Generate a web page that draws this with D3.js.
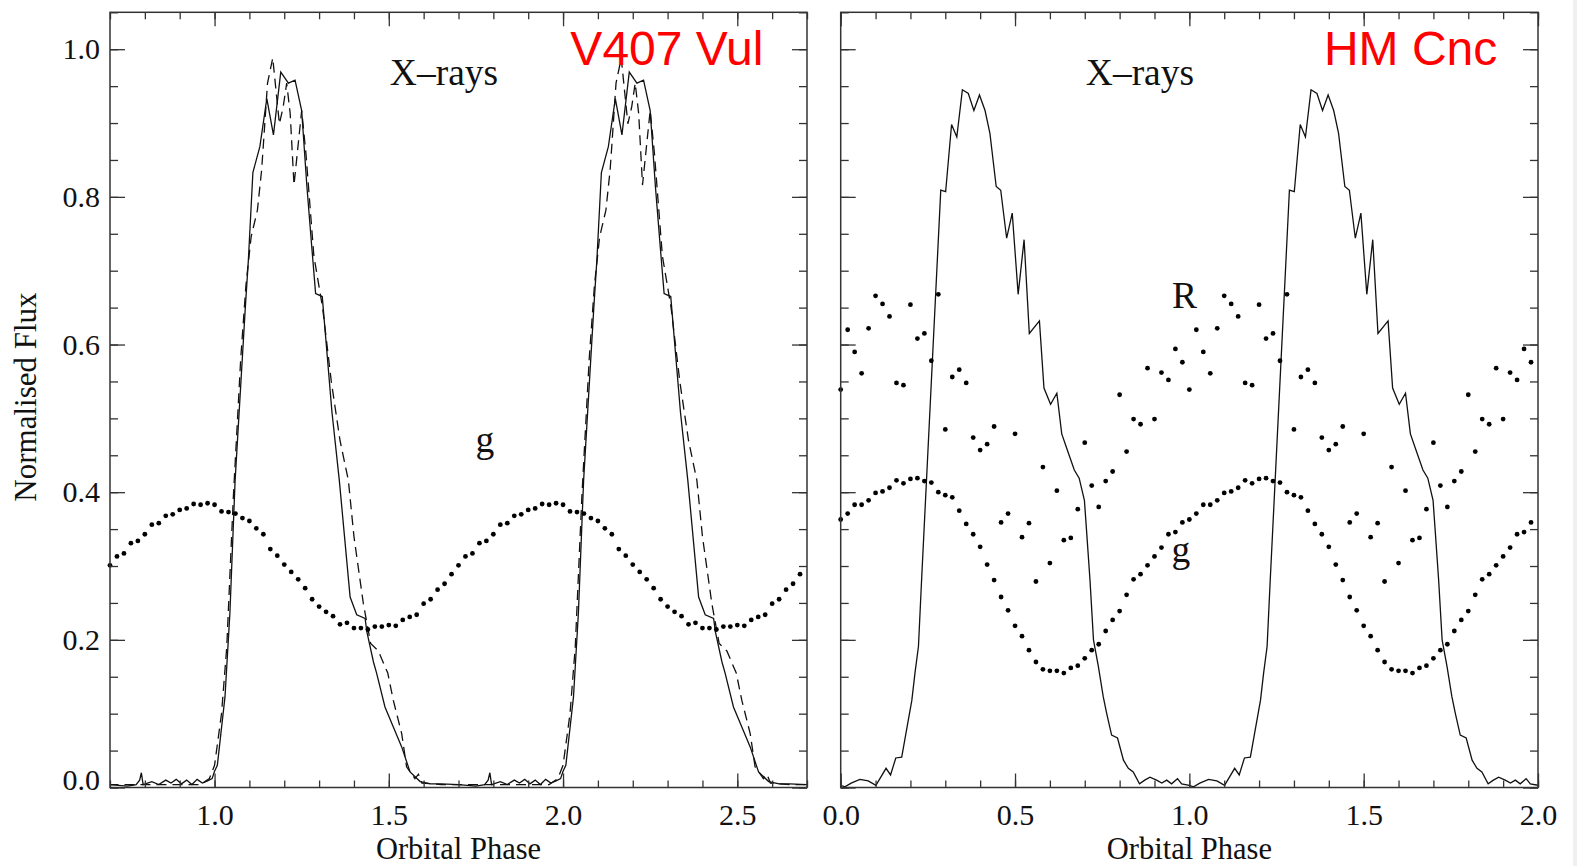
<!DOCTYPE html>
<html>
<head>
<meta charset="utf-8">
<script src="https://cdn.jsdelivr.net/npm/d3@7"></script>
<style>
  body { margin: 0; background: #fff; }
  svg { display: block; }
</style>
</head>
<body>
<script>
// one folded cycle of each light curve (phase 0..1), plotted twice / three times like the original

// V407 Vul, X-rays (solid)
const vulXrayPhase = [0.000, 0.008, 0.030, 0.044, 0.059, 0.088, 0.097, 0.110, 0.130, 0.150, 0.169, 0.190, 0.212, 0.231, 0.250, 0.265, 0.279, 0.290, 0.309, 0.337, 0.358, 0.389, 0.408, 0.432, 0.437, 0.456, 0.465, 0.489, 0.513, 0.537, 0.561, 0.590, 0.620, 0.650, 0.700, 0.750, 0.775, 0.785, 0.790, 0.795, 0.820, 0.840, 0.860, 0.875, 0.890, 0.905, 0.920, 0.935, 0.950, 0.965, 0.980, 0.993]
const vulXrayFlux = [0.022, 0.030, 0.123, 0.236, 0.416, 0.648, 0.714, 0.833, 0.868, 0.933, 0.884, 0.969, 0.954, 0.958, 0.917, 0.814, 0.732, 0.669, 0.665, 0.508, 0.416, 0.258, 0.234, 0.229, 0.211, 0.170, 0.155, 0.109, 0.082, 0.055, 0.021, 0.008, 0.005, 0.005, 0.004, 0.002, 0.004, 0.010, 0.020, 0.004, 0.008, 0.004, 0.010, 0.006, 0.011, 0.005, 0.010, 0.004, 0.011, 0.006, 0.009, 0.012]

// V407 Vul, X-rays (dashed)
const vulDashPhase = [0.000, 0.020, 0.035, 0.054, 0.075, 0.090, 0.105, 0.123, 0.135, 0.140, 0.152, 0.167, 0.186, 0.197, 0.207, 0.217, 0.228, 0.250, 0.262, 0.285, 0.310, 0.335, 0.360, 0.384, 0.400, 0.427, 0.448, 0.470, 0.497, 0.513, 0.537, 0.551, 0.575, 0.585, 0.595, 0.650, 0.800, 0.960, 0.985]
const vulDashFlux = [0.030, 0.100, 0.190, 0.394, 0.580, 0.680, 0.746, 0.782, 0.836, 0.870, 0.954, 0.988, 0.899, 0.922, 0.954, 0.913, 0.816, 0.917, 0.860, 0.720, 0.650, 0.550, 0.470, 0.416, 0.340, 0.249, 0.195, 0.185, 0.155, 0.118, 0.073, 0.028, 0.012, 0.018, 0.006, 0.004, 0.004, 0.004, 0.012]

// g band dots share one phase grid
const dotPhase = [0.00, 0.02, 0.04, 0.06, 0.08, 0.10, 0.12, 0.14, 0.16, 0.18, 0.20, 0.22, 0.24, 0.26, 0.28, 0.30, 0.32, 0.34, 0.36, 0.38, 0.40, 0.42, 0.44, 0.46, 0.48, 0.50, 0.52, 0.54, 0.56, 0.58, 0.60, 0.62, 0.64, 0.66, 0.68, 0.70, 0.72, 0.74, 0.76, 0.78, 0.80, 0.82, 0.84, 0.86, 0.88, 0.90, 0.92, 0.94, 0.96, 0.98]
const vulG = [0.383, 0.374, 0.373, 0.371, 0.365, 0.361, 0.351, 0.343, 0.323, 0.314, 0.302, 0.292, 0.282, 0.270, 0.255, 0.245, 0.238, 0.232, 0.221, 0.223, 0.216, 0.216, 0.214, 0.218, 0.218, 0.220, 0.219, 0.227, 0.231, 0.234, 0.249, 0.255, 0.268, 0.276, 0.289, 0.301, 0.313, 0.317, 0.331, 0.334, 0.343, 0.356, 0.358, 0.368, 0.370, 0.376, 0.378, 0.384, 0.383, 0.385]

// HM Cnc
const hmXrayPhase = [0.000, 0.012, 0.030, 0.055, 0.079, 0.101, 0.130, 0.143, 0.158, 0.175, 0.187, 0.204, 0.213, 0.223, 0.232, 0.287, 0.301, 0.318, 0.333, 0.349, 0.366, 0.382, 0.398, 0.414, 0.428, 0.446, 0.459, 0.476, 0.492, 0.509, 0.526, 0.541, 0.570, 0.583, 0.602, 0.620, 0.634, 0.653, 0.670, 0.684, 0.699, 0.705, 0.715, 0.725, 0.739, 0.753, 0.763, 0.777, 0.794, 0.811, 0.825, 0.839, 0.857, 0.872, 0.887, 0.906, 0.921, 0.935, 0.949, 0.966, 0.978]
const hmXrayFlux = [0.003, 0.001, 0.006, 0.011, 0.009, 0.003, 0.026, 0.017, 0.040, 0.041, 0.073, 0.118, 0.155, 0.191, 0.281, 0.809, 0.807, 0.898, 0.881, 0.945, 0.940, 0.917, 0.938, 0.917, 0.886, 0.814, 0.809, 0.744, 0.778, 0.668, 0.742, 0.615, 0.632, 0.541, 0.519, 0.534, 0.479, 0.453, 0.430, 0.419, 0.389, 0.349, 0.281, 0.200, 0.164, 0.123, 0.100, 0.071, 0.067, 0.037, 0.026, 0.021, 0.005, 0.010, 0.014, 0.010, 0.006, 0.010, 0.005, 0.012, 0.005]
const hmG = [0.363, 0.371, 0.383, 0.383, 0.389, 0.399, 0.401, 0.406, 0.416, 0.412, 0.418, 0.419, 0.415, 0.413, 0.400, 0.396, 0.393, 0.375, 0.357, 0.343, 0.326, 0.302, 0.281, 0.258, 0.240, 0.219, 0.205, 0.186, 0.170, 0.160, 0.158, 0.158, 0.155, 0.162, 0.165, 0.175, 0.186, 0.194, 0.212, 0.227, 0.239, 0.261, 0.282, 0.289, 0.301, 0.313, 0.325, 0.343, 0.346, 0.359]
const hmR = [0.539, 0.620, 0.590, 0.561, 0.622, 0.666, 0.655, 0.638, 0.548, 0.545, 0.654, 0.608, 0.615, 0.578, 0.668, 0.485, 0.556, 0.566, 0.548, 0.474, 0.457, 0.465, 0.489, 0.359, 0.371, 0.479, 0.339, 0.358, 0.279, 0.434, 0.304, 0.402, 0.335, 0.338, 0.377, 0.467, 0.409, 0.380, 0.415, 0.428, 0.532, 0.455, 0.499, 0.492, 0.568, 0.499, 0.562, 0.552, 0.594, 0.576]

const yTicks = [0.0, 0.2, 0.4, 0.6, 0.8, 1.0]
const vulTicks = [1.0, 1.5, 2.0, 2.5]
const hmTicks = [0.0, 0.5, 1.0, 1.5, 2.0]

const width = 1577
const height = 866
const plotTop = 12.3
const plotBottom = 787.5
const serif = 'Liberation Serif, Times New Roman, serif'
const sans = 'Liberation Sans, Arial, sans-serif'

const svg = d3.select('body').append('svg')
  .attr('width', width)
  .attr('height', height)

svg.append('rect').attr('width', width).attr('height', height).attr('fill', '#fff')
svg.append('rect').attr('x', 1573).attr('width', 4).attr('height', height).attr('fill', '#f0f0f0')

const y = d3.scaleLinear().domain([0, 1.05]).range([plotBottom, plotTop])

function panel (opts) {
  const x = d3.scaleLinear().domain(opts.domain).range([opts.left, opts.right])
  const cycles = d3.range(Math.floor(opts.domain[0]), Math.ceil(opts.domain[1]) + 1)
  // repeat the folded cycle across the phase range
  const unfold = (ph, val) => cycles.flatMap(k => ph.map((p, i) => [p + k, val[i]]))

  const g = svg.append('g')
  const clipId = 'clip-' + opts.name
  g.append('clipPath').attr('id', clipId)
    .append('rect')
    .attr('x', opts.left).attr('y', plotTop)
    .attr('width', opts.right - opts.left).attr('height', plotBottom - plotTop)

  const line = d3.line().x(d => x(d[0])).y(d => y(d[1]))
  const plot = g.append('g').attr('clip-path', 'url(#' + clipId + ')')

  opts.lines.forEach(s => {
    plot.append('path')
      .datum(unfold(s.phase, s.flux))
      .attr('d', line)
      .attr('fill', 'none')
      .attr('stroke', '#111')
      .attr('stroke-width', 1.3)
      .attr('stroke-dasharray', s.dash || null)
  })

  opts.dots.forEach(vals => {
    g.append('g').selectAll('circle')
      .data(unfold(dotPhase, vals).filter(d => d[0] >= opts.domain[0] && d[0] <= opts.domain[1] - 0.01))
      .join('circle')
      .attr('cx', d => x(d[0]))
      .attr('cy', d => y(d[1]))
      .attr('r', 2.4)
      .attr('fill', '#000')
  })

  const minorX = d3.range(Math.ceil(opts.domain[0] * 10), Math.floor(opts.domain[1] * 10) + 1).map(d => d / 10)
  const minorY = d3.range(0, 22).map(d => d * 0.05)

  const styleAxis = sel => {
    sel.select('.domain').remove()
    sel.selectAll('line').attr('stroke', '#333').attr('stroke-width', 1.3)
    sel.selectAll('text')
      .attr('font-family', serif)
      .attr('font-size', 30)
      .attr('fill', '#111')
  }

  // bottom
  g.append('g').attr('transform', 'translate(0,' + plotBottom + ')')
    .call(d3.axisBottom(x).tickValues(minorX).tickSize(-7).tickFormat(''))
    .call(styleAxis)
  g.append('g').attr('transform', 'translate(0,' + plotBottom + ')')
    .call(d3.axisBottom(x).tickValues(opts.ticks).tickSize(-14).tickPadding(16).tickFormat(d3.format('.1f')))
    .call(styleAxis)
  // top
  g.append('g').attr('transform', 'translate(0,' + plotTop + ')')
    .call(d3.axisTop(x).tickValues(minorX).tickSize(-7).tickFormat(''))
    .call(styleAxis)
  g.append('g').attr('transform', 'translate(0,' + plotTop + ')')
    .call(d3.axisTop(x).tickValues(opts.ticks).tickSize(-14).tickFormat(''))
    .call(styleAxis)
  // left
  g.append('g').attr('transform', 'translate(' + opts.left + ',0)')
    .call(d3.axisLeft(y).tickValues(minorY).tickSize(-8).tickFormat(''))
    .call(styleAxis)
  const yAxis = g.append('g').attr('transform', 'translate(' + opts.left + ',0)')
    .call(d3.axisLeft(y).tickValues(yTicks).tickSize(-15).tickPadding(10)
      .tickFormat(opts.yLabels ? d3.format('.1f') : ''))
    .call(styleAxis)
  yAxis.selectAll('.tick text').filter(d => d === 0).attr('dy', '0.05em')
  // right
  g.append('g').attr('transform', 'translate(' + opts.right + ',0)')
    .call(d3.axisRight(y).tickValues(minorY).tickSize(-8).tickFormat(''))
    .call(styleAxis)
  g.append('g').attr('transform', 'translate(' + opts.right + ',0)')
    .call(d3.axisRight(y).tickValues(yTicks).tickSize(-15).tickFormat(''))
    .call(styleAxis)

  g.append('rect')
    .attr('x', opts.left).attr('y', plotTop)
    .attr('width', opts.right - opts.left).attr('height', plotBottom - plotTop)
    .attr('fill', 'none')
    .attr('stroke', '#333')
    .attr('stroke-width', 1.5)

  g.append('text')
    .attr('x', (opts.left + opts.right) / 2)
    .attr('y', 859)
    .attr('text-anchor', 'middle')
    .attr('font-family', serif)
    .attr('font-size', 30.5)
    .attr('fill', '#111')
    .text('Orbital Phase')

  opts.notes.forEach(n => {
    g.append('text')
      .attr('x', x(n.at[0]))
      .attr('y', y(n.at[1]))
      .attr('text-anchor', n.anchor || 'start')
      .attr('font-family', n.red ? sans : serif)
      .attr('font-size', n.red ? 48 : 37.5)
      .attr('fill', n.red ? '#ff0000' : '#111')
      .text(n.text)
  })
}

panel({
  name: 'vul',
  domain: [0.7, 2.7],
  left: 110,
  right: 807,
  ticks: vulTicks,
  yLabels: true,
  lines: [
    { phase: vulXrayPhase, flux: vulXrayFlux },
    { phase: vulDashPhase, flux: vulDashFlux, dash: '10,6' }
  ],
  dots: [vulG],
  notes: [
    { text: 'X\u2013rays', at: [1.503, 0.951] },
    { text: 'V407 Vul', at: [2.021, 0.978], red: true },
    { text: 'g', at: [1.776, 0.454], anchor: 'middle' }
  ]
})

panel({
  name: 'hm',
  domain: [0, 2],
  left: 840.7,
  right: 1538,
  ticks: hmTicks,
  yLabels: false,
  lines: [
    { phase: hmXrayPhase, flux: hmXrayFlux }
  ],
  dots: [hmG, hmR],
  notes: [
    { text: 'X\u2013rays', at: [0.703, 0.951] },
    { text: 'HM Cnc', at: [1.386, 0.978], red: true },
    { text: 'R', at: [0.950, 0.649] },
    { text: 'g', at: [0.976, 0.305], anchor: 'middle' }
  ]
})

svg.append('text')
  .attr('transform', 'translate(36,397) rotate(-90)')
  .attr('text-anchor', 'middle')
  .attr('font-family', serif)
  .attr('font-size', 31)
  .attr('fill', '#111')
  .text('Normalised Flux')
</script>
</body>
</html>
